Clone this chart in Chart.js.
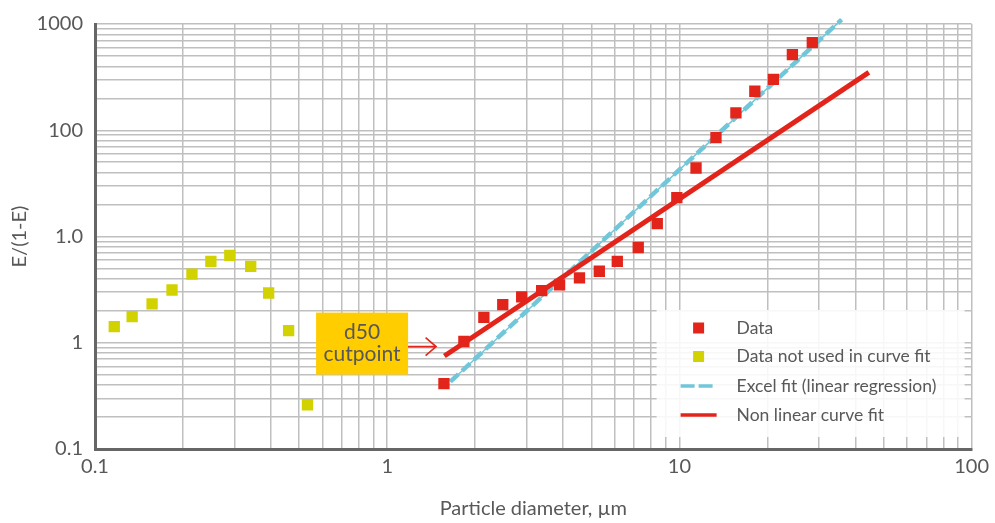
<!DOCTYPE html>
<html><head><meta charset="utf-8">
<script src="https://cdn.jsdelivr.net/npm/chart.js@4"></script>
<style>html,body{margin:0;padding:0;background:#fff}#wrap{width:995px;height:523px;position:relative}</style>
</head><body><div id="wrap"><canvas id="c"></canvas></div>
<script>
// ---- data ----
const dataDiameter = [1.564,1.830,2.142,2.486,2.886,3.378,3.89,4.55,5.32,6.13,7.23,8.40,9.80,11.40,13.34,15.61,18.12,20.98,24.36,28.50];
const dataRatio    = [0.412,1.028,1.731,2.288,2.70,3.09,3.51,4.08,4.71,5.84,7.88,13.2,23.2,44.1,85.2,145.6,233,301.6,515.6,667];
const unusedDiameter = [0.1164,0.1340,0.1568,0.1835,0.2147,0.2492,0.2893,0.3411,0.3929,0.4598,0.5335];
const unusedRatio    = [1.418,1.758,2.32,3.136,4.42,5.84,6.64,5.24,2.94,1.30,0.261];
const excelFitDiameter = [1.645, 35.9];
const excelFitRatio    = [0.43, 1100];
const nonlinearFitDiameter = [1.569, 44.5];
const nonlinearFitRatio    = [0.75, 350];
const xTickValues = [0.1, 1, 10, 100];
const xTickLabels = ['0.1', '1', '10', '100'];
const yTickValues = [0.1, 1, 10, 100, 1000];
const yTickLabels = ['0.1', '1', '1.0', '100', '1000'];
const seriesNames = ['Data', 'Data not used in curve fit', 'Excel fit (linear regression)', 'Non linear curve fit'];
const xTitle = 'Particle diameter, µm';
const yTitle = 'E/(1-E)';
const annotationLines = ['d50', 'cutpoint'];
const d50Arrow = { x: 1.47, y: 0.92 };

const RED = '#e3241b', YEL = '#d2d200', BLUE = '#72c6da', TXT = '#585858';
const FONT = 'Lato, "Open Sans", sans-serif';

const pts = (xs, ys) => xs.map((x, i) => ({ x, y: ys[i] }));
function logTicks(majors) {
  const t = [];
  for (let i = 0; i < majors.length; i++) {
    t.push(majors[i]);
    if (i < majors.length - 1) for (let m = 2; m <= 9; m++) t.push(m * majors[i]);
  }
  return t;
}
function labelFor(v, vals, labels) {
  for (let i = 0; i < vals.length; i++) if (Math.abs(v / vals[i] - 1) < 1e-6) return labels[i];
  return '';
}

const overlay = {
  id: 'overlay',
  beforeDatasetsDraw(chart) {
    const ctx = chart.ctx, a = chart.chartArea;
    const L = a.right - 315, T = a.bottom - 139, W = 308, H = 127;
    ctx.save();
    ctx.fillStyle = 'rgba(255,255,255,0.88)';
    ctx.fillRect(L, T, W, H);
    ctx.font = '17.5px ' + FONT;
    ctx.fillStyle = TXT;
    ctx.textBaseline = 'middle';
    const rows = [18, 46.5, 76, 105];
    seriesNames.forEach((n, i) => {
      const y = T + rows[i];
      const mx = L + 42;
      if (i === 0) { ctx.fillStyle = RED; ctx.fillRect(mx - 5.5, y - 5.5, 11, 11); }
      if (i === 1) { ctx.fillStyle = YEL; ctx.fillRect(mx - 5.5, y - 5.5, 11, 11); }
      if (i === 2) {
        ctx.strokeStyle = BLUE; ctx.lineWidth = 3.5; ctx.setLineDash([14, 4]);
        ctx.beginPath(); ctx.moveTo(mx - 18, y); ctx.lineTo(mx + 18, y); ctx.stroke(); ctx.setLineDash([]);
      }
      if (i === 3) {
        ctx.strokeStyle = RED; ctx.lineWidth = 3.5;
        ctx.beginPath(); ctx.moveTo(mx - 18, y); ctx.lineTo(mx + 18, y); ctx.stroke();
      }
      ctx.fillStyle = TXT;
      ctx.fillText(n, L + 80, y);
    });
    ctx.restore();
  },
  afterDatasetsDraw(chart) {
    const ctx = chart.ctx;
    const tx = chart.scales.x.getPixelForValue(d50Arrow.x);
    const ty = chart.scales.y.getPixelForValue(d50Arrow.y);
    ctx.save();
    ctx.strokeStyle = RED; ctx.lineWidth = 1.6;
    ctx.beginPath(); ctx.moveTo(tx - 29, ty); ctx.lineTo(tx, ty);
    ctx.moveTo(tx - 10.5, ty - 9); ctx.lineTo(tx, ty); ctx.lineTo(tx - 10.5, ty + 9);
    ctx.stroke();
    const bw = 92, bh = 62, br = tx - 28;
    const bt = ty - 3 - bh / 2;
    ctx.fillStyle = '#ffcd00';
    ctx.fillRect(br - bw, bt, bw, bh);
    ctx.fillStyle = TXT;
    ctx.font = '21px ' + FONT;
    ctx.textAlign = 'center'; ctx.textBaseline = 'middle';
    ctx.fillText(annotationLines[0], br - bw / 2, bt + 20);
    ctx.fillText(annotationLines[1], br - bw / 2, bt + 42);
    ctx.restore();
  }
};

new Chart(document.getElementById('c'), {
  type: 'scatter',
  data: {
    datasets: [
      { label: seriesNames[0], data: pts(dataDiameter, dataRatio), pointStyle: 'rect', pointRadius: 8, pointHoverRadius: 8,
        backgroundColor: RED, borderWidth: 0, showLine: false, order: 1 },
      { label: seriesNames[1], data: pts(unusedDiameter, unusedRatio), pointStyle: 'rect', pointRadius: 8, pointHoverRadius: 8,
        backgroundColor: YEL, borderWidth: 0, showLine: false, order: 1 },
      { label: seriesNames[2], data: pts(excelFitDiameter, excelFitRatio), showLine: true, borderColor: BLUE, borderWidth: 4.5,
        borderDash: [11, 5], pointRadius: 0, clip: false, order: 3 },
      { label: seriesNames[2] + ' ', data: pts(excelFitDiameter, excelFitRatio), showLine: true, borderColor: BLUE, borderWidth: 1.5,
        pointRadius: 0, clip: false, order: 4 },
      { label: seriesNames[3], data: pts(nonlinearFitDiameter, nonlinearFitRatio), showLine: true, borderColor: RED, borderWidth: 5,
        pointRadius: 0, clip: false, order: 2 }
    ]
  },
  options: {
    responsive: true, maintainAspectRatio: false, animation: false,
    layout: { padding: { left: 0, right: 12, top: 15, bottom: 0 } },
    plugins: { legend: { display: false }, tooltip: { enabled: false } },
    scales: {
      x: {
        type: 'logarithmic', position: 'bottom', min: 0.1, max: 100,
        afterBuildTicks: s => { s.ticks = logTicks(xTickValues).map(v => ({ value: v })); },
        afterFit: s => { s.height = 74; },
        ticks: { autoSkip: false, maxRotation: 0, padding: 6, color: TXT, font: { family: FONT, size: 20 },
          callback: v => labelFor(v, xTickValues, xTickLabels) },
        grid: { color: '#bfbfbf', lineWidth: 1.5, drawTicks: false },
        border: { display: true, color: '#666', width: 3 },
        title: { display: true, text: xTitle, color: TXT, font: { family: FONT, size: 20 }, padding: { top: 0, bottom: 2 } }
      },
      y: {
        type: 'logarithmic', position: 'left', min: 0.1, max: 1000,
        afterBuildTicks: s => { s.ticks = logTicks(yTickValues).map(v => ({ value: v })); },
        afterFit: s => { s.width = 95; },
        ticks: { autoSkip: false, padding: 12, color: TXT, font: { family: FONT, size: 20 },
          callback: v => labelFor(v, yTickValues, yTickLabels) },
        grid: { color: '#bfbfbf', lineWidth: 1.5, drawTicks: false },
        border: { display: true, color: '#666', width: 3 },
        title: { display: true, text: yTitle, color: TXT, font: { family: FONT, size: 20 }, padding: { top: 8, bottom: 0 } }
      }
    }
  },
  plugins: [overlay]
});
</script></body></html>
